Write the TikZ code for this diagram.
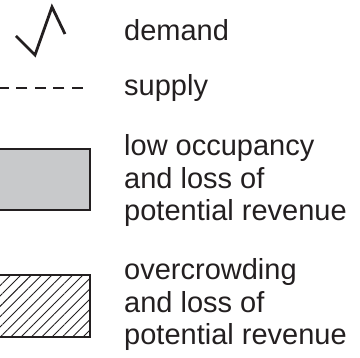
\documentclass[tikz,border=0pt]{standalone}
\usepackage{fontspec}
\setmainfont{Liberation Sans}
\usetikzlibrary{patterns.meta}
\definecolor{inkdark}{HTML}{231F20}
\definecolor{lowfill}{HTML}{C8C9CB}
\tikzset{
  keytxt/.style={anchor=base west, align=left, inner sep=0pt, text=inkdark,
                 font=\fontsize{29}{32.5}\selectfont},
  keyline/.style={draw=inkdark, line width=2.8pt},
  lowbox/.style={draw=inkdark, line width=2.8pt, fill=lowfill},
  crowdbox/.style={draw=inkdark, line width=2.8pt,
                   pattern={Lines[angle=45, distance=7.3pt, line width=0.9pt]},
                   pattern color=inkdark},
}
\begin{document}
\begin{tikzpicture}[x=1pt, y=-1pt]
  \useasboundingbox (0,0) rectangle (360,358);
  \clip (0,0) rectangle (360,358);
  % demand
  \coordinate (d1) at (16,36);
  \coordinate (d2) at (35,55);
  \coordinate (d3) at (52,7);
  \coordinate (d4) at (65,34);
  \draw[keyline, line join=miter] (d1) -- (d2) -- (d3) -- (d4);
  \node[keytxt] (tdemand) at (124,41) {demand};
  % supply
  \coordinate (s1) at (83,88);
  \coordinate (s2) at (-4,88);
  \draw[keyline, dash pattern=on 11pt off 7.5pt] (s1) -- (s2);
  \node[keytxt] (tsupply) at (124,96) {supply};
  % low occupancy (anchor is on the last line)
  \draw[lowbox] (-5,149) rectangle (90,210);
  \node[keytxt] (tlow) at (124,221) {low occupancy\\and loss of\\potential revenue};
  % overcrowding
  \draw[crowdbox] (-5,275) rectangle (90,337);
  \node[keytxt] (tcrowd) at (124,345) {overcrowding\\and loss of\\potential revenue};
\end{tikzpicture}
\end{document}
